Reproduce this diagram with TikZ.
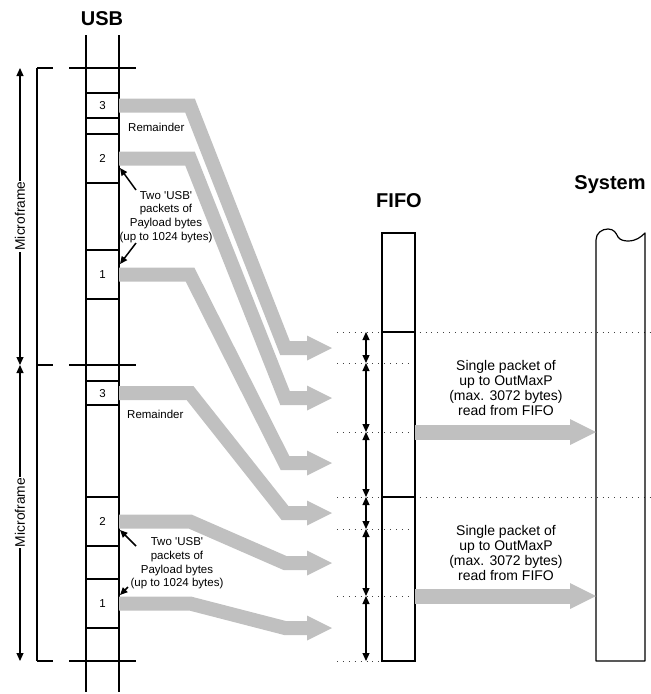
\documentclass[tikz,border=0pt]{standalone}
\usepackage{fontspec}
\setmainfont{Liberation Sans}
\usetikzlibrary{arrows.meta}
\definecolor{bandgray}{RGB}{192,192,192}
\newcommand\usbband[2]{%
  \draw[band] (119,#1) -- (190,#1) -- (285,#2) -- (308,#2);
  \fill[bandgray] (307,#2-12.5) -- (332,#2) -- (307,#2+12.5) -- cycle;}
\newcommand\sysband[1]{%
  \draw[band, line width=15pt] (415,#1) -- (571,#1);
  \fill[bandgray] (570,#1-13) -- (596,#1) -- (570,#1+13) -- cycle;}
\begin{document}
\begin{tikzpicture}[x=1pt,y=-1pt,
  col/.style={line width=1.2pt, line cap=butt},
  band/.style={line width=14pt, draw=bandgray, line join=miter, line cap=butt},
  dotl/.style={draw=black!75, line width=0.9pt, dash pattern=on 0.9pt off 5pt},
  small/.style={font=\fontsize{11.5}{13.7}\selectfont, align=center, inner sep=0pt},
  big/.style={font=\fontsize{14}{15}\selectfont, align=center, inner sep=0pt},
  ttl/.style={font=\fontsize{20}{22}\selectfont\bfseries, inner sep=0pt, anchor=base},
  num/.style={font=\fontsize{11.5}{13.7}\selectfont, inner sep=0pt, anchor=base},
  mf/.style={font=\fontsize{13.8}{15}\selectfont, fill=white, inner xsep=1pt, inner ysep=0pt, rotate=90},
  dim/.style={line width=1.2pt, {Triangle[length=8pt,width=7pt]}-{Triangle[length=8pt,width=7pt]}},
  note/.style={line width=1.5pt, -{Triangle[length=7.5pt,width=6.5pt]}},
]
\useasboundingbox (0,0) rectangle (651,694);

% ---- dotted level lines
\foreach \yy in {332,497} \draw[dotl] (337,\yy) -- (651,\yy);
\foreach \yy in {363,432,529,596} \draw[dotl] (337,\yy) -- (412,\yy);
\draw[dotl] (337,661) -- (380,661);

% ---- titles
\node[ttl] (usbT) at (102,25) {USB};
\node[ttl] (fifoT) at (399,207) {FIFO};
\node[ttl] (sysT) at (610,189.5) {System};

% ---- USB column
\draw[col] (86,35) -- (86,692);
\draw[col] (119,35) -- (119,692);
\foreach \yy in {93,118,134,183,250,299,381,405,497,546,579,628}
  \draw[col] (86,\yy) -- (119,\yy);

% ---- microframe boundaries
\foreach \yy in {68,365,661} {
  \draw[col] (37,\yy) -- (53,\yy);
  \draw[col] (69,\yy) -- (136,\yy);
}
\draw[col] (37,68) -- (37,661);

\coordinate (mfa) at (20,68);
\coordinate (mfb) at (20,365);
\coordinate (mfc) at (20,661);
\draw[dim] (mfa) -- (mfb);
\draw[dim] (mfb) -- (mfc);
\node[mf] (mf1) at (20,216) {Microframe};
\node[mf] (mf2) at (20,512.5) {Microframe};

% ---- FIFO column
\draw[col] (382,233) rectangle (415,661);
\draw[col] (382,332) -- (415,332);
\draw[col] (382,497) -- (415,497);

% ---- FIFO dimension arrows
\foreach \ya/\yb in {332/363,363/432,432/497,497/529,529/596,596/661}
  \draw[dim] (366,\ya) -- (366,\yb);

% ---- System column
\draw[col, line join=round] (596,661) -- (596,240)
  .. controls (596,233) and (602,229) .. (608,229)
  .. controls (614,229) and (616,233) .. (618,237)
  .. controls (620,240) and (624,241) .. (628,241)
  .. controls (636,241) and (641,237) .. (645,233)
  -- (645,661) -- cycle;

% ---- gray data bands USB -> FIFO
\usbband{105.5}{348}
\usbband{158.5}{398}
\usbband{274.5}{463}
\usbband{393}{513}
\draw[band] (119,521.5) -- (190,521.5) -- (285,563) -- (308,563);
\fill[bandgray] (307,550.5) -- (332,563) -- (307,575.5) -- cycle;
\draw[band] (119,603.5) -- (190,603.5) -- (285,628) -- (308,628);
\fill[bandgray] (307,615.5) -- (332,628) -- (307,640.5) -- cycle;

% ---- gray bands FIFO -> System
\sysband{432}
\sysband{596}

% ---- box numbers
\node[num] (b3a) at (102.5,109.6) {3};
\node[num] (b2a) at (102.5,162.6) {2};
\node[num] (b1a) at (102.5,278.6) {1};
\node[num] (b3b) at (102.5,397.1) {3};
\node[num] (b2b) at (102.5,525.6) {2};
\node[num] (b1b) at (102.5,607.6) {1};

% ---- remainder labels
\node[num, anchor=base west] (rem1) at (128,131) {Remainder};
\node[num, anchor=base west] (rem2) at (127,418) {Remainder};

% ---- USB packet notes
\node[small] (noteA) at (166,217) {Two {\textquotesingle}USB{\textquotesingle}\\packets of\\Payload bytes\\(up to 1024 bytes)};
\node[small] (noteB) at (177,563.5) {Two {\textquotesingle}USB{\textquotesingle}\\packets of\\Payload bytes\\(up to 1024 bytes)};
\coordinate (na1) at (136,190); \coordinate (na1t) at (120,168);
\coordinate (na2) at (136,243); \coordinate (na2t) at (120,264);
\coordinate (nb1) at (136,546); \coordinate (nb1t) at (120,530);
\coordinate (nb2) at (128,587); \coordinate (nb2t) at (120,595);
\draw[note] (na1) -- (na1t);
\draw[note] (na2) -- (na2t);
\draw[note] (nb1) -- (nb1t);
\draw[note] (nb2) -- (nb2t);

% ---- system read notes
\node[big] (readA) at (506,388) {Single packet of\\up to OutMaxP\\(max. 3072 bytes)\\read from FIFO};
\node[big] (readB) at (506,553) {Single packet of\\up to OutMaxP\\(max. 3072 bytes)\\read from FIFO};
\end{tikzpicture}
\end{document}
